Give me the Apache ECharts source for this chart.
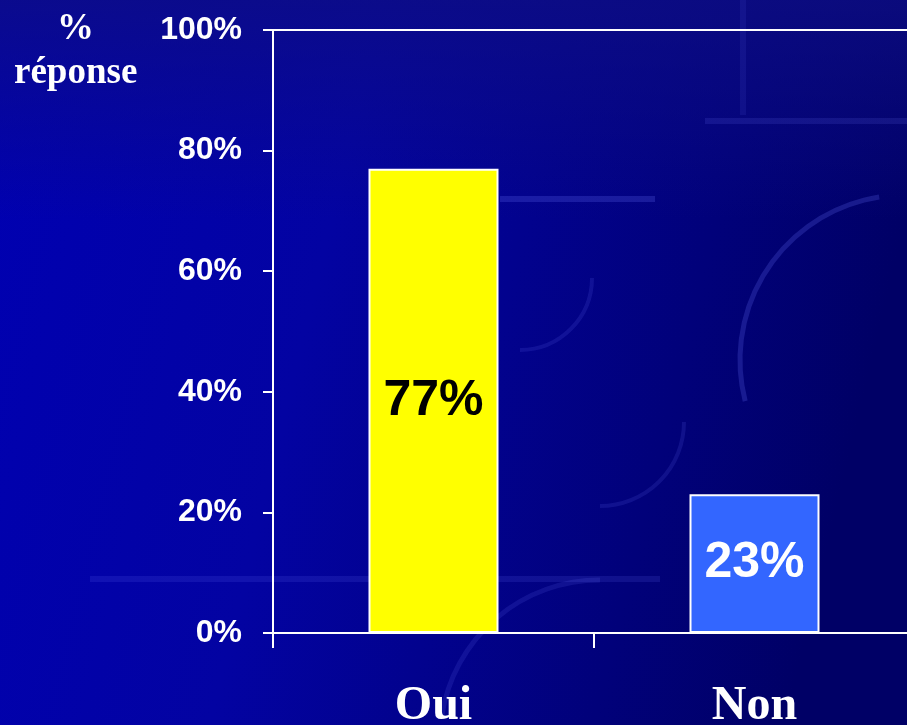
<!DOCTYPE html>
<html>
<head>
<meta charset="utf-8">
<script src="https://cdn.jsdelivr.net/npm/echarts@6/dist/echarts.min.js"></script>
<style>
html,body{margin:0;padding:0;width:907px;height:725px;overflow:hidden;background:#00007a;}
#c{width:907px;height:725px;}
</style>
</head>
<body>
<div id="c"></div>
<script>
const categories = ['Oui', 'Non'];
const values = [77, 23];
const barColors = ['#ffff00', '#3366ff'];
const labelColors = ['#000000', '#ffffff'];
const yTicks = [0, 20, 40, 60, 80, 100];

const chart = echarts.init(document.getElementById('c'), null, {renderer: 'canvas'});
const faint = 'rgba(110,120,255,0.22)';
const faint2 = 'rgba(110,120,255,0.14)';
const option = {
  backgroundColor: {
    type: 'linear', x: 0, y: 0, x2: 1, y2: 0.3,
    colorStops: [
      {offset: 0, color: '#0000b2'},
      {offset: 0.4, color: '#0303a2'},
      {offset: 1, color: '#000066'}
    ]
  },
  animation: false,
  graphic: [
    {type: 'rect', silent: true, z: -2, shape: {x: 0, y: 0, width: 907, height: 220},
      style: {fill: {type: 'linear', x: 0, y: 0, x2: 0, y2: 1, colorStops: [
        {offset: 0, color: 'rgba(14,14,130,0.75)'}, {offset: 1, color: 'rgba(14,14,130,0)'}]}}},
    {type: 'rect', silent: true, z: -1, shape: {x: 500, y: 196, width: 155, height: 6}, style: {fill: faint}},
    {type: 'rect', silent: true, z: -1, shape: {x: 90, y: 576, width: 570, height: 6}, style: {fill: faint2}},
    {type: 'rect', silent: true, z: -1, shape: {x: 705, y: 118, width: 202, height: 6}, style: {fill: faint2}},
    {type: 'rect', silent: true, z: -1, shape: {x: 740, y: 0, width: 6, height: 115}, style: {fill: 'rgba(110,120,255,0.1)'}},
    {type: 'arc', silent: true, z: -1, shape: {cx: 905, cy: 360, r: 165, startAngle: Math.PI*0.92, endAngle: Math.PI*1.45}, style: {stroke: faint, lineWidth: 5, fill: null}},
    {type: 'arc', silent: true, z: -1, shape: {cx: 600, cy: 422, r: 84, startAngle: 0, endAngle: Math.PI*0.5}, style: {stroke: faint2, lineWidth: 4, fill: null}},
    {type: 'arc', silent: true, z: -1, shape: {cx: 520, cy: 278, r: 72, startAngle: 0, endAngle: Math.PI*0.5}, style: {stroke: faint2, lineWidth: 4, fill: null}},
    {type: 'arc', silent: true, z: -1, shape: {cx: 600, cy: 740, r: 160, startAngle: Math.PI*1.05, endAngle: Math.PI*1.5}, style: {stroke: faint2, lineWidth: 5, fill: null}},
    {type: 'text', left: 57, top: 11, style: {text: '%', font: 'bold 37px "Liberation Serif", "Times New Roman", serif', fill: '#ffffff', shadowColor: '#000000', shadowOffsetX: 2, shadowOffsetY: 2, shadowBlur: 0}},
    {type: 'text', left: 14, top: 55, style: {text: 'réponse', font: 'bold 37px "Liberation Serif", "Times New Roman", serif', fill: '#ffffff', shadowColor: '#000000', shadowOffsetX: 2, shadowOffsetY: 2, shadowBlur: 0}}
  ],
  grid: {left: 273, top: 30, width: 642, height: 603, containLabel: false, outerBoundsMode: 'none'},
  xAxis: [
    {
      type: 'category',
      data: categories,
      position: 'bottom',
      axisLine: {lineStyle: {color: '#ffffff', width: 2}},
      axisTick: {show: true, length: 15, lineStyle: {color: '#ffffff', width: 2}},
      axisLabel: {
        color: '#ffffff', fontFamily: '"Liberation Serif", "Times New Roman", serif',
        fontWeight: 'bold', fontSize: 48, lineHeight: 48, margin: 50
      }
    },
    {
      type: 'category',
      data: categories,
      position: 'top',
      axisLine: {show: true, lineStyle: {color: '#ffffff', width: 2}},
      axisTick: {show: false},
      axisLabel: {show: false}
    }
  ],
  yAxis: {
    type: 'value',
    min: yTicks[0], max: yTicks[yTicks.length - 1], interval: yTicks[1] - yTicks[0],
    axisLine: {show: true, lineStyle: {color: '#ffffff', width: 2}},
    axisTick: {show: true, length: 10, lineStyle: {color: '#ffffff', width: 2}},
    splitLine: {show: false},
    axisLabel: {
      color: '#ffffff', fontFamily: '"Liberation Sans", Arial, sans-serif',
      fontWeight: 'bold', fontSize: 32, margin: 31,
      formatter: '{value}%'
    }
  },
  series: [{
    type: 'bar',
    xAxisIndex: 0,
    barWidth: 130,
    data: values.map((v, i) => ({
      value: v,
      itemStyle: {color: barColors[i], borderColor: '#ffffff', borderWidth: 2},
      label: {color: labelColors[i]}
    })),
    label: {
      show: true, position: 'inside',
      fontFamily: '"Liberation Sans", Arial, sans-serif',
      fontWeight: 'bold', fontSize: 50,
      formatter: '{c}%'
    }
  }]
};
chart.setOption(option);
</script>
</body>
</html>
